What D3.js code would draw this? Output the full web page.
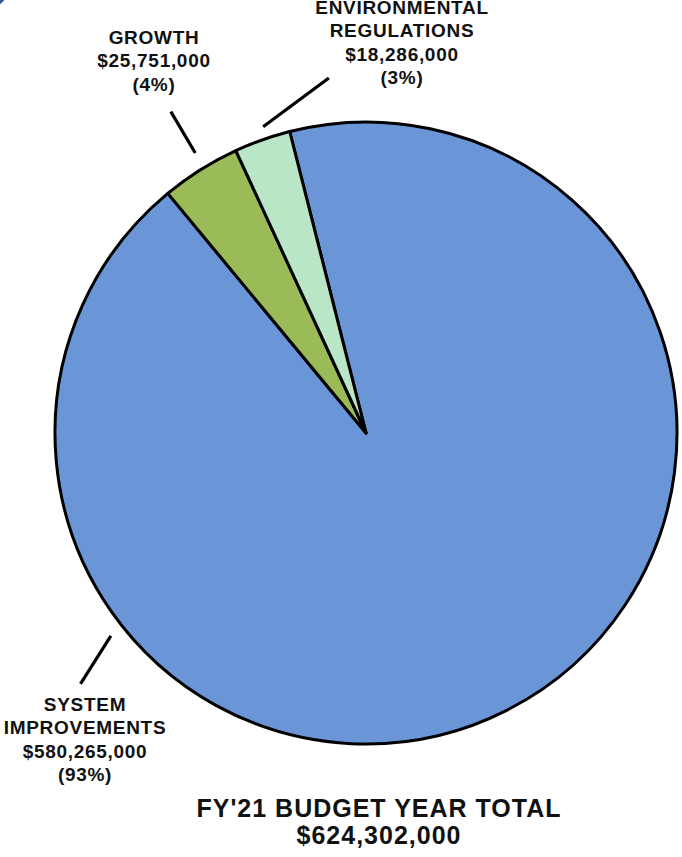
<!DOCTYPE html>
<html>
<head>
<meta charset="utf-8">
<script src="https://cdn.jsdelivr.net/npm/d3@7"></script>
<style>
  html, body { margin: 0; padding: 0; background: #fff; }
  svg { display: block; }
  text { font-family: "Liberation Sans", Arial, sans-serif; font-weight: bold; fill: #111; }
</style>
</head>
<body>
<svg id="chart" width="682" height="857"></svg>
<script>
// Budget categories and amounts (USD)
const categories = ["SYSTEM IMPROVEMENTS", "GROWTH", "ENVIRONMENTAL REGULATIONS"];
const amounts = [580265000, 25751000, 18286000];
const percents = ["93%", "4%", "3%"];
const colors = ["#6A96D8", "#9BBB59", "#B8E6C6"];
const totalLabel = ["FY'21 BUDGET YEAR TOTAL", "$624,302,000"];

// Label text lines per slice
const labelLines = [
  ["SYSTEM", "IMPROVEMENTS", "$580,265,000", "(93%)"],
  ["GROWTH", "$25,751,000", "(4%)"],
  ["ENVIRONMENTAL", "REGULATIONS", "$18,286,000", "(3%)"]
];

const svg = d3.select("#chart");
const cx = 366, cy = 433, r = 311;
const deg = Math.PI / 180;

// small logo fragment in the corner
svg.append("circle")
  .attr("cx", -9).attr("cy", -9).attr("r", 14)
  .attr("fill", "none").attr("stroke", "#2E5C9E").attr("stroke-width", 4);

const start = -14.2 * deg;
const pie = d3.pie().sort(null).value(d => d)
  .startAngle(start).endAngle(start + 2 * Math.PI);
const arcs = pie(amounts);
const arc = d3.arc().innerRadius(0).outerRadius(r);

const g = svg.append("g").attr("transform", `translate(${cx},${cy})`);
g.selectAll("path.slice")
  .data(arcs)
  .join("path")
  .attr("class", "slice")
  .attr("d", arc)
  .attr("fill", (d, i) => colors[i])
  .attr("stroke", "#000")
  .attr("stroke-width", 3)
  .attr("stroke-linejoin", "round");

// Leader lines in polar terms: [angle offset from slice centre (deg), radius] for each end
const leaderPolar = [
  [[78.4, 326], [75.6, 380]],
  [[0.8, 328], [0.9, 376]],
  [[0.9, 323], [13.5, 357]]
];
const leaders = arcs.map((a, i) => {
  const mid = (a.startAngle + a.endAngle) / 2;
  return leaderPolar[i].map(([da, rr]) => d3.pointRadial(mid + da * deg, rr));
});
g.selectAll("line.leader")
  .data(leaders)
  .join("line")
  .attr("class", "leader")
  .attr("x1", d => d[0][0]).attr("y1", d => d[0][1])
  .attr("x2", d => d[1][0]).attr("y2", d => d[1][1])
  .attr("stroke", "#000").attr("stroke-width", 3.2);

// Slice labels
const labelPos = [
  { x: 85, y: 711 },
  { x: 154, y: 44 },
  { x: 402, y: 14 }
];
labelLines.forEach((lines, i) => {
  const t = svg.append("text")
    .attr("text-anchor", "middle")
    .attr("font-size", 19)
    .attr("letter-spacing", 0.7);
  lines.forEach((s, k) => {
    t.append("tspan")
      .attr("x", labelPos[i].x)
      .attr("y", labelPos[i].y + k * 23.3)
      .text(s);
  });
});

// Total caption
const cap = svg.append("text").attr("text-anchor", "middle")
  .attr("font-size", 25).attr("letter-spacing", 1);
totalLabel.forEach((s, k) => {
  cap.append("tspan").attr("x", 379).attr("y", 817 + k * 27).text(s);
});
</script>
</body>
</html>
